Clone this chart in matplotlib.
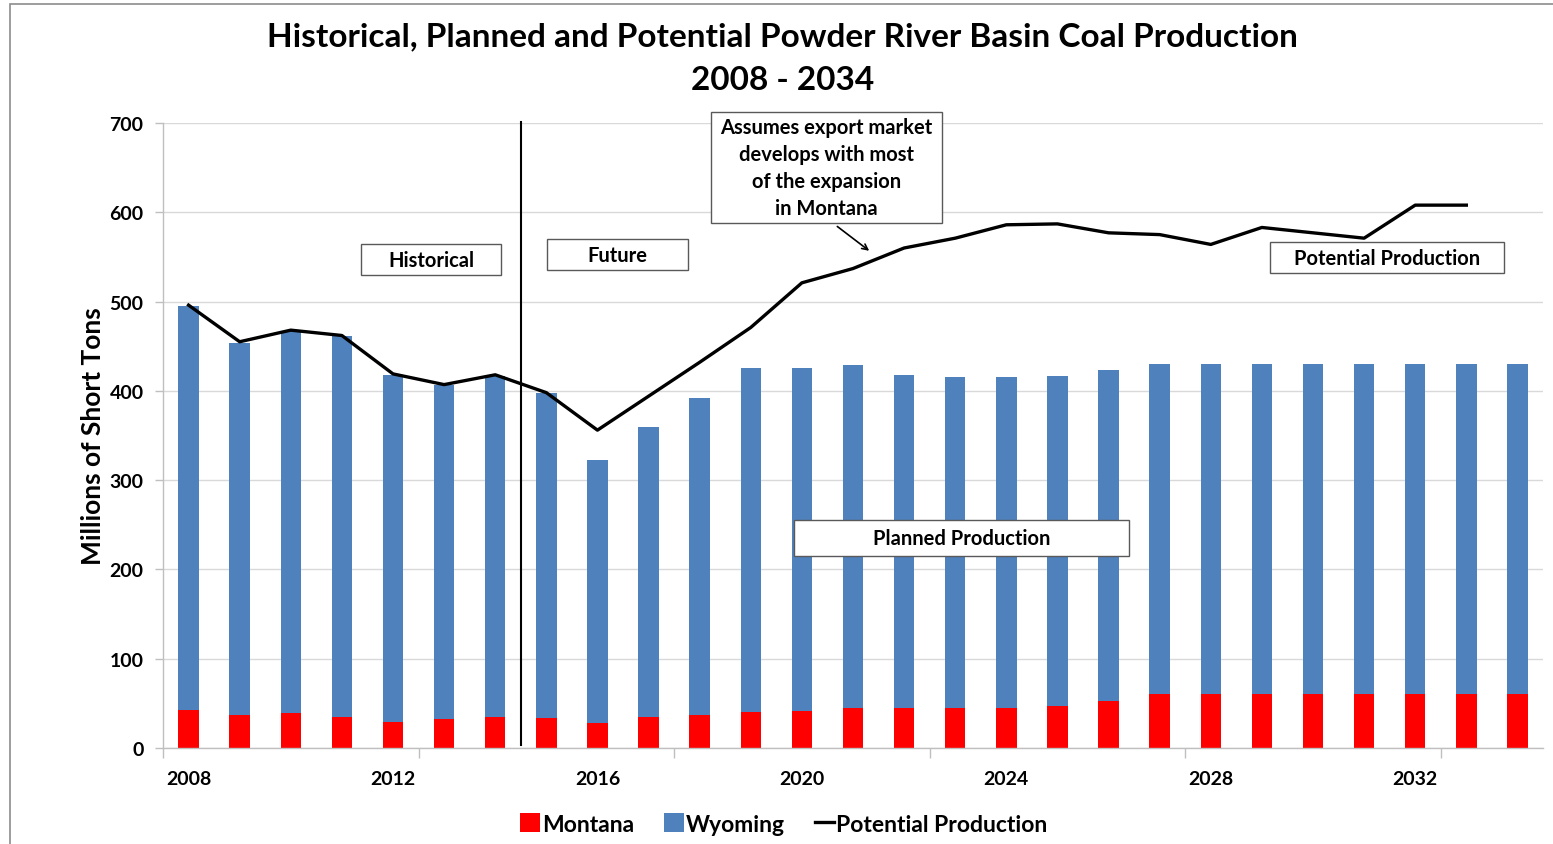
import matplotlib
matplotlib.use("Agg")
import matplotlib.pyplot as plt
from matplotlib.patches import Rectangle
import numpy as np

plt.rcParams['font.family'] = ['Lato', 'DejaVu Sans']

years = list(range(2008, 2035))
montana = [43, 37, 39, 35, 29, 32, 35, 34, 28, 35, 37, 40, 41, 45, 45, 45, 45, 47, 53,
           60, 60, 60, 60, 60, 60, 60, 60]
total = [495, 454, 467, 462, 418, 407, 417, 398, 323, 359, 392, 426, 426, 429, 418, 416,
         416, 417, 423, 430, 430, 430, 430, 430, 430, 430, 430]
wyoming = [t - m for t, m in zip(total, montana)]
potential_years = list(range(2008, 2034))
potential = [496, 455, 468, 462, 419, 407, 418, 398, 356, 394, 432, 471, 521, 537, 560,
             571, 586, 587, 577, 575, 564, 583, 577, 571, 608, 608]
tick_label_years = [2008, 2012, 2016, 2020, 2024, 2028, 2032]

W, H = 1553, 845
fig = plt.figure(figsize=(W / 100, H / 100), dpi=100)
ax = fig.add_axes([163 / W, 1 - 749 / H, (1543 - 163) / W, (749 - 124) / H])

x = np.arange(len(years))
xp = np.arange(len(potential_years))
blue = '#4F81BD'
red = '#FF0000'
bw = 0.4
h_mt = ax.bar(x, montana, width=bw, color=red, label='Montana', zorder=2)
h_wy = ax.bar(x, wyoming, bottom=montana, width=bw, color=blue, label='Wyoming', zorder=2)
h_pp, = ax.plot(xp, potential, color='black', lw=2.4, label='Potential Production', zorder=3)

ax.set_xlim(-0.5, len(years) - 0.5)
ax.set_ylim(0, 700)
ax.set_yticks(range(0, 701, 100))
ax.yaxis.grid(True, color='#d9d9d9', lw=1, zorder=0)
ax.set_axisbelow(True)

lab_pos = [years.index(y) for y in tick_label_years]
ax.set_xticks(lab_pos)
ax.set_xticklabels([str(y) for y in tick_label_years])
ax.set_xticks(np.arange(-0.5, len(years), 5), minor=True)
ax.tick_params(axis='x', which='major', length=0, pad=16, labelsize=14)
ax.tick_params(axis='x', which='minor', length=7, color='#bfbfbf', width=1)
ax.tick_params(axis='y', which='major', length=6, color='#bfbfbf', width=1, labelsize=14, pad=8)
for lab in ax.get_xticklabels() + ax.get_yticklabels():
    lab.set_fontweight('bold')

for s in ['top', 'right']:
    ax.spines[s].set_visible(False)
for s in ['left', 'bottom']:
    ax.spines[s].set_color('#bfbfbf')
    ax.spines[s].set_linewidth(1)

ax.set_ylabel('Millions of Short Tons', fontsize=19, fontweight='bold', labelpad=3)

# Divider between historical and future
ax.plot([6.5, 6.5], [3, 701], color='black', lw=1.5, zorder=4, clip_on=False)


def label_box(x0, x1, y0, y1, text, fs=14.5, ls=1.2):
    ax.add_patch(Rectangle((x0, y0), x1 - x0, y1 - y0, fc='white', ec='#595959', lw=1,
                           zorder=5, clip_on=False))
    ax.text((x0 + x1) / 2, (y0 + y1) / 2, text, ha='center', va='center', fontsize=fs,
            fontweight='bold', linespacing=ls, zorder=6)


label_box(3.374, 6.113, 529.7, 564.5, 'Historical')
label_box(7.013, 9.772, 535.3, 570.1, 'Future')
label_box(21.16, 25.74, 532.0, 566.7, 'Potential Production')
label_box(11.846, 18.40, 215.0, 255.3, 'Planned Production')
label_box(10.22, 14.74, 588.0, 712.3,
          'Assumes export market\ndevelops with most\nof the expansion\nin Montana', ls=1.45)
ax.annotate('', xy=(13.36, 555), xytext=(12.65, 586),
            arrowprops=dict(arrowstyle='->', color='black', lw=1.2), zorder=5)

fig.text(0.5 * (267 + 1298) / W, 1 - 37 / H,
         'Historical, Planned and Potential Powder River Basin Coal Production',
         ha='center', va='center', fontsize=24, fontweight='bold')
fig.text(0.5 * (267 + 1298) / W, 1 - 80 / H, '2008 - 2034',
         ha='center', va='center', fontsize=24, fontweight='bold')

fig.legend(handles=[h_mt, h_wy, h_pp], labels=['Montana', 'Wyoming', 'Potential Production'],
           loc='center', bbox_to_anchor=(784 / W, 1 - 825 / H), ncol=3, frameon=False,
           handlelength=0.85, handleheight=0.85, handletextpad=0.1, columnspacing=1.3,
           prop={'weight': 'bold', 'size': 16.5})

# Figure border
fig.patches.append(Rectangle((10 / W, -0.01), 1.02, 1 - 5 / H + 0.01, transform=fig.transFigure,
                             fill=False, ec='#8c8c8c', lw=1.2))

fig.savefig('out.png', dpi=100)
